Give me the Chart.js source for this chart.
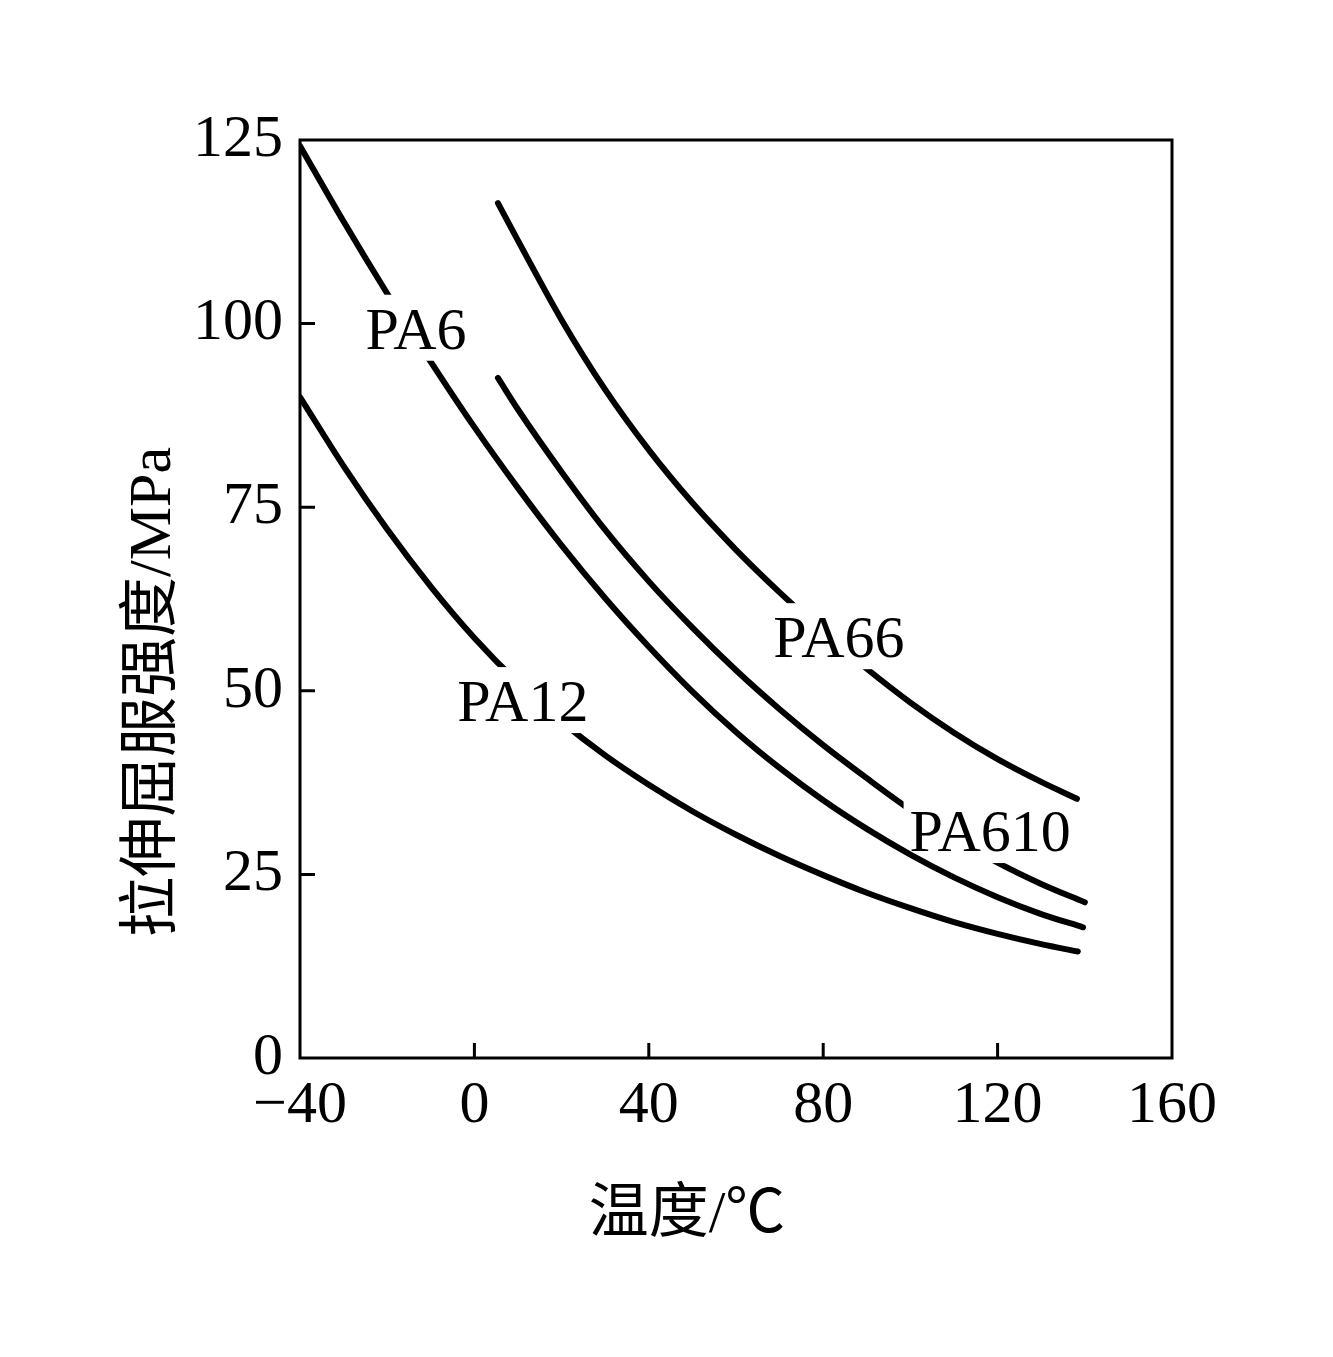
<!DOCTYPE html>
<html>
<head>
<meta charset="utf-8">
<script src="https://cdn.jsdelivr.net/npm/chart.js@4.4.1/dist/chart.umd.min.js"></script>
<style>
  html, body { margin: 0; padding: 0; background: #fff; }
  canvas { display: block; }
</style>
</head>
<body>
<canvas id="chart" width="1333" height="1357"></canvas>
<script>
// values
const seriesNames = ['PA6', 'PA66', 'PA610', 'PA12'];

const pa6Temp = [-40, -30, -20, -10, 0, 10, 20, 30, 40, 50, 60, 70, 80, 90, 100, 110, 120, 130, 139.6];
const pa6Strength = [124.2, 113.9, 104.1, 94.8, 85.9, 77.6, 69.8, 62.6, 56.0, 49.9, 44.4, 39.5, 35.1, 31.2, 27.7, 24.6, 21.9, 19.6, 17.8];

const pa66Temp = [5.4, 10, 20, 30, 40, 50, 60, 70, 80, 90, 100, 110, 120, 130, 138.2];
const pa66Strength = [116.4, 111.3, 100.5, 91.0, 82.8, 75.6, 69.2, 63.4, 58.0, 53.0, 48.4, 44.3, 40.7, 37.6, 35.3];

const pa610Temp = [5.4, 10, 20, 30, 40, 50, 60, 70, 80, 90, 100, 110, 120, 130, 140];
const pa610Strength = [92.6, 88.3, 79.8, 71.9, 64.9, 58.6, 52.8, 47.5, 42.6, 38.1, 33.8, 30.0, 26.6, 23.7, 21.2];

const pa12Temp = [-40, -30, -20, -10, 0, 10, 20, 30, 40, 50, 60, 70, 80, 90, 100, 110, 120, 130, 138.4];
const pa12Strength = [90, 80.6, 72.0, 64.2, 57.2, 51.1, 45.8, 41.2, 37.2, 33.6, 30.4, 27.5, 24.9, 22.5, 20.4, 18.5, 16.9, 15.5, 14.5];

const xTicks = [-40, 0, 40, 80, 120, 160];
const yTicks = [0, 25, 50, 75, 100, 125];

// where each curve name sits, in data units
const labelTemp = [-13.4, 83.6, 118.3, 11.1];
const labelStrength = [99.3, 57.3, 30.9, 48.6];

const xTitle = '温度/℃';
const yTitle = '拉伸屈服强度/MPa';

const FONT = '"Liberation Serif", "Times New Roman", "Noto Sans CJK SC", serif';

const toPoints = (xs, ys) => xs.map((v, i) => ({ x: v, y: ys[i] }));

const curve = (label, xs, ys) => ({
  label,
  data: toPoints(xs, ys),
  borderColor: '#000',
  borderWidth: 6,
  borderCapStyle: 'round',
  borderJoinStyle: 'round',
  pointRadius: 0,
  cubicInterpolationMode: 'monotone',
  fill: false,
});

const frameAndLabels = {
  id: 'frameAndLabels',
  // blank the stretch of a curve under its own name, before the next curve is drawn
  afterDatasetDraw(chart, args) {
    const { ctx, scales: { x, y } } = chart;
    const i = args.index;
    ctx.save();
    ctx.font = '60px ' + FONT;
    const w = ctx.measureText(seriesNames[i]).width;
    const cx = x.getPixelForValue(labelTemp[i]);
    const cy = y.getPixelForValue(labelStrength[i]);
    ctx.fillStyle = '#fff';
    ctx.fillRect(cx - w / 2 - 6, cy - 34, w + 12, 66);
    ctx.restore();
  },
  afterDraw(chart) {
    const { ctx, chartArea: a, scales: { x, y } } = chart;
    ctx.save();
    ctx.strokeStyle = '#000';
    ctx.lineWidth = 3;
    ctx.strokeRect(a.left, a.top, a.right - a.left, a.bottom - a.top);

    // inward tick marks
    ctx.beginPath();
    xTicks.slice(1, -1).forEach(v => {
      const px = x.getPixelForValue(v);
      ctx.moveTo(px, a.bottom);
      ctx.lineTo(px, a.bottom - 15);
    });
    yTicks.slice(1, -1).forEach(v => {
      const py = y.getPixelForValue(v);
      ctx.moveTo(a.left, py);
      ctx.lineTo(a.left + 15, py);
    });
    ctx.stroke();

    ctx.fillStyle = '#000';
    ctx.font = '60px ' + FONT;
    ctx.textAlign = 'center';
    ctx.textBaseline = 'alphabetic';
    seriesNames.forEach((name, i) => {
      const cx = x.getPixelForValue(labelTemp[i]);
      const cy = y.getPixelForValue(labelStrength[i]);
      ctx.fillText(name, cx, cy + 20);
    });

    ctx.fillText(xTitle, 687, 1232);

    ctx.translate(170, 692);
    ctx.rotate(-Math.PI / 2);
    ctx.fillText(yTitle, 0, 0);
    ctx.restore();
  }
};

new Chart(document.getElementById('chart'), {
  type: 'line',
  data: {
    datasets: [
      curve('PA6', pa6Temp, pa6Strength),
      curve('PA66', pa66Temp, pa66Strength),
      curve('PA610', pa610Temp, pa610Strength),
      curve('PA12', pa12Temp, pa12Strength),
    ],
  },
  options: {
    responsive: false,
    animation: false,
    devicePixelRatio: 1,
    layout: { padding: { top: 140, right: 161, left: 0, bottom: 0 } },
    plugins: {
      legend: { display: false },
      tooltip: { enabled: false },
    },
    scales: {
      x: {
        type: 'linear',
        min: -40,
        max: 160,
        afterBuildTicks: s => { s.ticks = xTicks.map(v => ({ value: v })); },
        afterFit: s => { s.height = 299; },
        grid: { display: false, drawTicks: false },
        border: { display: false },
        ticks: {
          color: '#000',
          padding: 12,
          font: { family: FONT, size: 60 },
          callback: v => (v < 0 ? '\u2212' + Math.abs(v) : String(v)),
        },
      },
      y: {
        type: 'linear',
        min: 0,
        max: 125,
        afterBuildTicks: s => { s.ticks = yTicks.map(v => ({ value: v })); },
        afterFit: s => { s.width = 300; },
        grid: { display: false, drawTicks: false },
        border: { display: false },
        ticks: {
          color: '#000',
          padding: 17,
          font: { family: FONT, size: 60 },
        },
      },
    },
  },
  plugins: [frameAndLabels],
});
</script>
</body>
</html>
